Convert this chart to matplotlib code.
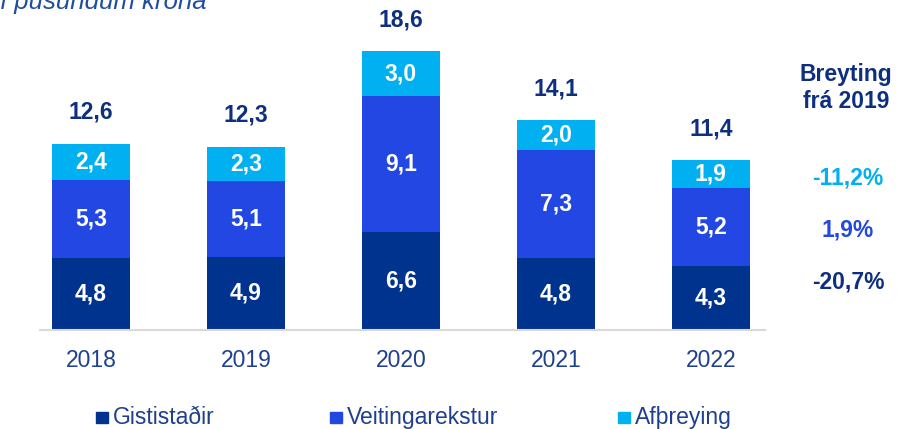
import matplotlib.pyplot as plt
import numpy as np
from matplotlib.patches import Rectangle

plt.rcParams['font.family'] = ['Liberation Sans', 'DejaVu Sans']

years = ['2018', '2019', '2020', '2021', '2022']
series_names = ['Gististaðir', 'Veitingarekstur', 'Afþreying']
gisti = [4.8, 4.9, 6.6, 4.8, 4.3]
veit = [5.3, 5.1, 9.1, 7.3, 5.2]
afth = [2.4, 2.3, 3.0, 2.0, 1.9]
totals = [12.6, 12.3, 18.6, 14.1, 11.4]
changes = ['-20,7%', '1,9%', '-11,2%']

colors = ['#00338D', '#2347E2', '#00B0F0']
navy = '#0E2F80'
W, H = 897, 429

fig = plt.figure(figsize=(W / 100, H / 100), dpi=100)
# axes placed in pixel terms: baseline at y=330, 14.9 px per unit
ax = fig.add_axes([40 / W, 99 / H, 725 / W, 298 / H])
ax.set_xlim(-0.33, 4.35)
ax.set_ylim(0, 20)

x = np.arange(len(years))
bottom = np.zeros(len(years))
for vals, c in zip([gisti, veit, afth], colors):
    ax.bar(x, vals, 0.503, bottom=bottom, color=c)
    for xi, b, v in zip(x, bottom, vals):
        ax.text(xi, b + v / 2, f'{v:.1f}'.replace('.', ','), ha='center', va='center',
                color='white', fontsize=16.5, fontweight='bold')
    bottom += np.array(vals)

for xi, top, t in zip(x, bottom, totals):
    ax.annotate(f'{t:.1f}'.replace('.', ','), (xi, top), xytext=(0, 22.5),
                textcoords='offset points', ha='center', va='center',
                color=navy, fontsize=16.5, fontweight='bold')

for s in ['top', 'right', 'left']:
    ax.spines[s].set_visible(False)
ax.spines['bottom'].set_color('#D9D9D9')
ax.spines['bottom'].set_linewidth(1.5)
ax.set_yticks([])
ax.set_xticks(x)
ax.set_xticklabels(years, fontsize=16.5, color='#1F3F8F')
ax.tick_params(axis='x', length=0, pad=14)

# title, partly clipped at top
fig.text(207 / W, 1 - 9 / H, 'í þúsundum króna', ha='right', va='baseline',
         fontsize=18.5, style='italic', color='#1F4E9F')

# right side change column
fig.text(846 / W, 1 - 88 / H, 'Breyting\nfrá 2019', ha='center', va='center',
         fontsize=16.5, fontweight='bold', color=navy, linespacing=1.2)
change_y = [282, 230, 178]
for txt, c, yy in zip(changes, [navy, colors[1], colors[2]], change_y):
    fig.text(848 / W, 1 - yy / H, txt, ha='center', va='center',
             fontsize=16.5, fontweight='bold', color=c)

# legend row
leg_x = [96, 330, 618]
for lx, name, c in zip(leg_x, series_names, colors):
    fig.patches.append(Rectangle((lx / W, 1 - 423 / H), 12 / W, 11 / H,
                                 transform=fig.transFigure, color=c))
    fig.text((lx + 17) / W, 1 - 424 / H, name, ha='left', va='baseline',
             fontsize=16.5, color='#1F3F8F')

fig.savefig('out.png', dpi=100)
